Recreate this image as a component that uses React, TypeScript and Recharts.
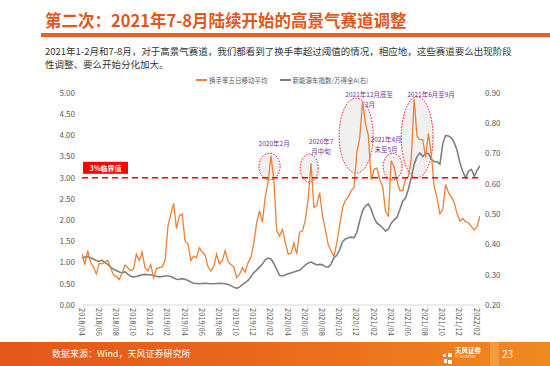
import React from 'react';
import { LineChart, Line, XAxis, YAxis, ReferenceLine, ReferenceArea, ReferenceDot } from 'recharts';

const FONT = "'Noto Sans CJK SC', 'Microsoft YaHei', sans-serif";

const titleText = '第二次：2021年7-8月陆续开始的高景气赛道调整';
const bodyLines = [
  '2021年1-2月和7-8月，对于高景气赛道，我们都看到了换手率超过阈值的情况，相应地，这些赛道要么出现阶段',
  '性调整、要么开始分化加大。',
];
const sourceText = '数据来源：Wind，天风证券研究所';
const pageNo = '23';

const seriesNames = ['换手率五日移动平均', '新能源车指数/万得全A(右)'];
const seriesColors = ['#EE7F33', '#7F7F7F'];

const tickLabels = [
  '2018/04', '2018/06', '2018/08', '2018/10', '2018/12',
  '2019/02', '2019/04', '2019/06', '2019/08', '2019/10', '2019/12',
  '2020/02', '2020/04', '2020/06', '2020/08', '2020/10', '2020/12',
  '2021/02', '2021/04', '2021/06', '2021/08', '2021/10', '2021/12',
  '2022/02',
];
const tickIndex = tickLabels.map((_, k) => k * 6);

const leftTicks = [0, 0.5, 1, 1.5, 2, 2.5, 3, 3.5, 4, 4.5, 5];
const rightTicks = [0.2, 0.3, 0.4, 0.5, 0.6, 0.7, 0.8, 0.9];

// 换手率五日移动平均 (left axis), roughly 3 readings per month from 2018/04
const turnover = [
  1.21, 0.95, 1.28, 1.00, 0.90, 0.73, 0.98, 0.97, 1.02, 1.05,
  0.87, 0.71, 0.67, 0.60, 0.75, 0.94, 0.88, 0.81, 0.85, 1.20,
  1.05, 1.25, 0.88, 0.80, 0.95, 0.64, 0.86, 0.88, 0.90, 1.05,
  1.85, 2.15, 2.40, 1.80, 2.10, 2.15, 1.50, 1.45, 1.05, 1.15,
  1.12, 1.35, 1.25, 1.18, 0.90, 0.80, 0.90, 1.20, 0.97, 1.05,
  1.28, 1.03, 0.95, 0.90, 0.65, 0.72, 0.88, 0.78, 1.00, 1.12,
  1.45, 1.94, 2.22, 1.95, 2.55, 2.90, 3.52, 2.95, 1.75, 1.62,
  1.78, 1.48, 1.20, 1.22, 1.46, 1.20, 1.72, 1.75, 2.00, 2.50,
  3.34, 2.30, 2.35, 2.65, 2.10, 1.78, 1.42, 1.28, 1.15, 1.47,
  1.88, 2.30, 2.47, 2.55, 2.70, 2.77, 3.60, 3.95, 4.80, 4.28,
  4.00, 2.95, 3.20, 3.23, 2.95, 2.80, 2.21, 2.10, 3.40, 3.25,
  2.93, 2.70, 2.70, 2.97, 3.03, 3.45, 4.85, 3.98, 3.90, 3.90,
  3.48, 4.05, 3.55, 2.80, 2.52, 2.15, 2.25, 2.84, 2.65, 2.55,
  2.42, 2.15, 1.98, 2.04, 1.96, 1.94, 1.85, 1.77, 1.85, 2.10,
];

// 新能源车指数/万得全A (right axis)
const ratio = [
  0.355, 0.358, 0.360, 0.356, 0.352, 0.347, 0.344, 0.348, 0.340, 0.334,
  0.325, 0.318, 0.314, 0.309, 0.306, 0.310, 0.302, 0.295, 0.293, 0.294,
  0.297, 0.300, 0.301, 0.300, 0.300, 0.297, 0.295, 0.293, 0.294, 0.296,
  0.296, 0.294, 0.290, 0.285, 0.284, 0.287, 0.285, 0.281, 0.276, 0.272,
  0.271, 0.270, 0.271, 0.272, 0.271, 0.270, 0.270, 0.271, 0.272, 0.271,
  0.270, 0.268, 0.264, 0.259, 0.255, 0.259, 0.267, 0.274, 0.281, 0.293,
  0.307, 0.315, 0.325, 0.335, 0.349, 0.355, 0.352, 0.337, 0.318, 0.298,
  0.296, 0.299, 0.303, 0.306, 0.309, 0.312, 0.315, 0.323, 0.332, 0.339,
  0.342, 0.337, 0.332, 0.334, 0.333, 0.326, 0.325, 0.335, 0.356, 0.364,
  0.383, 0.409, 0.418, 0.422, 0.424, 0.422, 0.440, 0.478, 0.512, 0.527,
  0.534, 0.516, 0.488, 0.470, 0.464, 0.455, 0.444, 0.451, 0.470, 0.481,
  0.489, 0.515, 0.543, 0.553, 0.583, 0.620, 0.665, 0.690, 0.702, 0.690,
  0.700, 0.700, 0.682, 0.673, 0.673, 0.665, 0.733, 0.760, 0.758, 0.752,
  0.736, 0.710, 0.670, 0.640, 0.620, 0.642, 0.648, 0.625, 0.645, 0.660,
];

const threshold = 3;
const thresholdLabel = '3%临界值';

// highlighted periods (index range, value range on left axis)
const highlights = [
  { x1: 61.8, x2: 69.2, y1: 2.95, y2: 3.58 },
  { x1: 76.2, x2: 82.5, y1: 2.9, y2: 3.56 },
  { x1: 89.8, x2: 101.7, y1: 3.11, y2: 4.88 },
  { x1: 105.2, x2: 111.8, y1: 2.95, y2: 3.58 },
  { x1: 111.5, x2: 122.6, y1: 3.0, y2: 4.91 },
];

const notes = [
  { text: '2020年2月', i: 67.1, v: 3.82 },
  { text: '2020年7', i: 83.5, v: 3.87 },
  { text: '月中旬', i: 83.5, v: 3.63 },
  { text: '2021年12月底至', i: 100.3, v: 4.98 },
  { text: '2月', i: 100.6, v: 4.74 },
  { text: '2021年4月', i: 106.2, v: 3.92 },
  { text: '末至5月', i: 106.2, v: 3.68 },
  { text: '2021年6月至9月', i: 121.9, v: 4.98 },
];

const data = turnover.map((v, i) => ({ i, turnover: v, ratio: ratio[i] }));

const XTick = (props: any) => {
  const { x, y, payload } = props;
  const k = tickIndex.indexOf(payload.value);
  return (
    <text
      x={x}
      y={y}
      transform={`rotate(90, ${x}, ${y})`}
      textAnchor="start"
      dominantBaseline="central"
      fontSize={7.5}
      fill="#595959"
      fontFamily={FONT}
    >
      {k >= 0 ? tickLabels[k] : ''}
    </text>
  );
};

const Ellipse = (props: any) => {
  const { x, y, width, height } = props;
  return (
    <ellipse
      cx={x + width / 2}
      cy={y + height / 2}
      rx={width / 2}
      ry={height / 2}
      fill="#EDEDED"
      fillOpacity={0.85}
      stroke="#FF0000"
      strokeWidth={1}
      strokeDasharray="1.5 1.5"
    />
  );
};

const ThresholdLabel = (props: any) => {
  const vb = props.viewBox || {};
  const x = vb.x + 1;
  const y = vb.y;
  return (
    <g>
      <rect x={x} y={y - 16} width={45} height={12} fill="#FF0000" />
      <text x={x + 22.5} y={y - 10} textAnchor="middle" dominantBaseline="central" fontSize={7} fontWeight={700} fill="#FFFFFF" fontFamily={FONT}>
        {thresholdLabel}
      </text>
    </g>
  );
};

export default function App() {
  return (
    <div style={{ position: 'fixed', left: 0, top: 0, width: 550, height: 366, background: '#FFFFFF', overflow: 'hidden', fontFamily: FONT }}>
      {/* title */}
      <div style={{ position: 'absolute', left: 45, top: 8, fontSize: 16.5, fontWeight: 700, color: '#E0581E', whiteSpace: 'nowrap', lineHeight: '24px' }}>
        {titleText}
      </div>
      <div style={{ position: 'absolute', left: 41, top: 33, width: 509, height: 4, background: '#E8611E' }} />
      {/* body */}
      {bodyLines.map((t, k) => (
        <div key={k} style={{ position: 'absolute', left: 45, top: 45 + k * 12.5, fontSize: 9.5, color: '#333333', whiteSpace: 'nowrap', lineHeight: '12px', height: 12 }}>
          {t}
        </div>
      ))}
      {/* legend */}
      <div style={{ position: 'absolute', left: 196, top: 75, height: 10, display: 'flex', alignItems: 'center', fontSize: 6.5, color: '#595959', whiteSpace: 'nowrap' }}>
        <span style={{ display: 'inline-block', width: 11, height: 1.5, background: seriesColors[0], marginRight: 2 }} />
        <span style={{ marginRight: 12 }}>{seriesNames[0]}</span>
        <span style={{ display: 'inline-block', width: 11, height: 1.5, background: seriesColors[1], marginRight: 2 }} />
        <span>{seriesNames[1]}</span>
      </div>
      {/* footer */}
      <div style={{ position: 'absolute', left: 0, top: 342, width: 550, height: 24, background: 'linear-gradient(90deg, #E4561A 0%, #EA6A1C 50%, #F08A20 100%)' }} />
      <div style={{ position: 'absolute', left: 490, top: 342, width: 9, height: 24, background: '#F4A247', opacity: 0.8 }} />
      <div style={{ position: 'absolute', left: 52, top: 347, fontSize: 9, color: '#FFFFFF', whiteSpace: 'nowrap', lineHeight: '14px' }}>{sourceText}</div>
      <div style={{ position: 'absolute', left: 443, top: 346, width: 10, height: 12 }}>
        <svg width={10} height={12}>
          <rect x={0} y={1} width={3} height={3} fill="#FFFFFF" />
          <rect x={5} y={0} width={4} height={4} fill="#FFFFFF" />
          <rect x={1} y={6} width={3} height={4} fill="#FFFFFF" />
          <rect x={5} y={7} width={4} height={4} fill="#FFFFFF" />
        </svg>
      </div>
      <div style={{ position: 'absolute', left: 455, top: 346, fontSize: 6.5, fontWeight: 700, color: '#FFFFFF', whiteSpace: 'nowrap', lineHeight: '8px' }}>天风证券</div>
      <div style={{ position: 'absolute', left: 455, top: 355, fontSize: 3, color: '#FFFFFF', whiteSpace: 'nowrap', lineHeight: '4px' }}>TF SECURITIES</div>
      <div style={{ position: 'absolute', left: 502, top: 347, fontSize: 10, color: '#FFFFFF', lineHeight: '14px' }}>{pageNo}</div>

      {/* chart */}
      <div style={{ position: 'absolute', left: 0, top: 0 }}>
        <LineChart width={550} height={366} data={data} margin={{ top: 93, right: 0, bottom: 21, left: 0 }}>
          <XAxis
            dataKey="i"
            type="number"
            domain={[0, 139]}
            ticks={tickIndex}
            interval={0}
            tick={<XTick />}
            tickLine={false}
            tickSize={2}
            tickMargin={1}
            axisLine={{ stroke: '#D9D9D9' }}
            height={40}
            allowDataOverflow
          />
          <YAxis
            yAxisId="left"
            orientation="left"
            domain={[0, 5]}
            ticks={leftTicks}
            tickFormatter={(v: number) => v.toFixed(2)}
            width={82}
            axisLine={false}
            tickLine={false}
            tickSize={5}
            tickMargin={2}
            tick={{ fontSize: 8, fill: '#595959', fontFamily: FONT }}
            interval={0}
          />
          <YAxis
            yAxisId="right"
            orientation="right"
            domain={[0.2, 0.9]}
            ticks={rightTicks}
            tickFormatter={(v: number) => v.toFixed(2)}
            width={70}
            axisLine={false}
            tickLine={false}
            tickSize={3}
            tickMargin={2}
            tick={{ fontSize: 8, fill: '#595959', fontFamily: FONT, textAnchor: 'start' }}
            interval={0}
          />
          {highlights.map((h, k) => (
            <ReferenceArea key={k} yAxisId="left" x1={h.x1} x2={h.x2} y1={h.y1} y2={h.y2} shape={<Ellipse />} ifOverflow="visible" />
          ))}
          <Line yAxisId="right" type="linear" dataKey="ratio" stroke={seriesColors[1]} strokeWidth={1.6} dot={false} isAnimationActive={false} name={seriesNames[1]} />
          <Line yAxisId="left" type="linear" dataKey="turnover" stroke={seriesColors[0]} strokeWidth={1.3} dot={false} isAnimationActive={false} name={seriesNames[0]} />
          <ReferenceLine yAxisId="left" y={threshold} stroke="#FF0000" strokeWidth={1.5} strokeDasharray="6 4" label={<ThresholdLabel />} ifOverflow="visible" />
          {notes.map((n, k) => (
            <ReferenceDot
              key={k}
              yAxisId="left"
              x={n.i}
              y={n.v}
              r={0}
              ifOverflow="visible"
              shape={(p: any) => (
                <text x={p.cx} y={p.cy} textAnchor="middle" dominantBaseline="central" fontSize={6.5} fill="#7030A0" fontFamily={FONT}>
                  {n.text}
                </text>
              )}
            />
          ))}
        </LineChart>
      </div>
    </div>
  );
}
